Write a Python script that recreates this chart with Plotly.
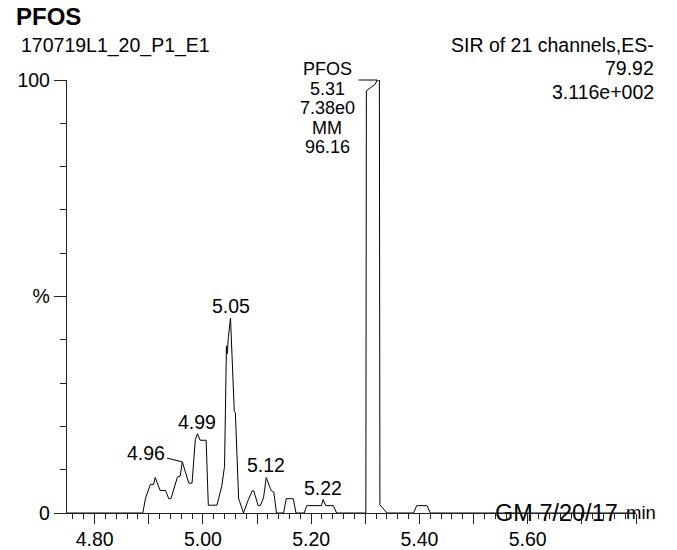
import plotly.graph_objects as go

# Selected ion recording trace (retention time in min, relative intensity in %)
rt = [4.749, 4.889, 4.894, 4.903, 4.909, 4.912, 4.921, 4.931, 4.937, 4.941,
      4.953, 4.958, 4.962, 4.974, 4.980, 4.986, 4.990, 4.995, 5.006, 5.010,
      5.026, 5.032, 5.035, 5.040, 5.0435, 5.045, 5.047, 5.051, 5.058, 5.060,
      5.066, 5.068, 5.075, 5.084, 5.091, 5.094, 5.102, 5.106, 5.112, 5.117,
      5.121, 5.126, 5.131, 5.136, 5.149, 5.154, 5.167, 5.172, 5.187, 5.192,
      5.219, 5.222, 5.227, 5.241, 5.247, 5.301, 5.302, 5.318, 5.322, 5.326,
      5.327, 5.340, 5.389, 5.395, 5.414, 5.420, 5.800]
pct = [0, 0, 3.4, 6.6, 6.6, 8.2, 5.2, 5.2, 3.3, 3.3,
       8.3, 8.5, 11.8, 6.9, 6.9, 16.9, 18.3, 16.8, 16.8, 1.8,
       1.8, 4.8, 6.3, 10.8, 38.6, 36.8, 40.5, 45.0, 23.4, 23.2,
       3.4, 2.6, 0, 3.1, 5.1, 5.1, 1.7, 1.7, 3.5, 8.2,
       6.9, 5.2, 4.8, 0, 0, 3.3, 3.3, 0, 0, 1.7,
       1.7, 3.1, 1.7, 1.7, 0, 0, 97.5, 99.0, 100, 100,
       1.9, 0, 0, 1.7, 1.7, 0, 0]

# Minor peaks picked by the integrator
minor_peak_rt = [4.96, 4.99, 5.05, 5.12, 5.22]

# Main integrated peak
main_name = "PFOS"
main_rt = 5.31
main_height = "7.38e0"
main_flag = "MM"
main_area = 96.16
main_apex_rt = 5.322

# Axis ticks
x_tickvals = [4.8, 4.9, 5.0, 5.1, 5.2, 5.3, 5.4, 5.5, 5.6, 5.7, 5.8]
x_ticktext = ["4.80", "", "5.00", "", "5.20", "", "5.40", "", "5.60", "", ""]
y_tickvals = [0, 50, 100]
y_ticktext = ["0", "%", "100"]

# Header text
title = "PFOS"
sample = "170719L1_20_P1_E1"
header_right = ["SIR of 21 channels,ES-", "79.92", "3.116e+002"]
signature = "GM 7/20/17"

W, H = 677, 550
L, R, T, B = 67, 41, 80, 37
PW, PH = W - L - R, H - T - B
FONT = "Liberation Sans, Arial, Helvetica, sans-serif"
FS = 19.5


def px(x):
    return (x - L) / PW


def py(y):
    return (H - B - y) / PH


def font(size):
    return dict(size=size, color="black", family=FONT)


fig = go.Figure()
fig.add_trace(go.Scatter(
    x=rt, y=pct, mode="lines",
    line=dict(color="black", width=1),
    cliponaxis=False, hoverinfo="skip", showlegend=False,
))

ann = []

# Labels over each minor peak apex
for lab in minor_peak_rt:
    cands = [i for i, t in enumerate(rt) if abs(t - lab) <= 0.006]
    i = max(cands, key=lambda k: pct[k])
    if lab == 4.96:
        ann.append(dict(x=rt[i], y=pct[i], text=f"{lab:.2f}", showarrow=True,
                        arrowhead=0, arrowwidth=1, arrowcolor="black",
                        ax=-36, ay=-9, standoff=0, font=font(FS)))
    else:
        ann.append(dict(x=rt[i], y=pct[i], text=f"{lab:.2f}", showarrow=False,
                        yanchor="middle", yshift=12, font=font(FS)))

# Main peak label block and its leader
main_lines = [main_name, f"{main_rt:.2f}", main_height, main_flag, f"{main_area:.2f}"]
for k, s in enumerate(main_lines):
    ann.append(dict(xref="paper", yref="paper", x=px(327), y=py(69.5 + 19.4 * k),
                    text=s, showarrow=False, xanchor="center", yanchor="middle",
                    font=font(18)))
ann.append(dict(x=main_apex_rt, y=100, text="", showarrow=True, arrowhead=0,
                arrowwidth=1, arrowcolor="black", ax=-20, ay=0, standoff=0))

# Header
ann.append(dict(xref="paper", yref="paper", x=px(14), y=py(17), text=f"<b>{title}</b>",
                showarrow=False, xanchor="left", yanchor="middle", font=font(24)))
ann.append(dict(xref="paper", yref="paper", x=px(19), y=py(45.5), text=sample,
                showarrow=False, xanchor="left", yanchor="middle", font=font(FS)))
for k, s in enumerate(header_right):
    ann.append(dict(xref="paper", yref="paper", x=px(656), y=py(45 + 23.3 * k), text=s,
                    showarrow=False, xanchor="right", yanchor="middle", font=font(FS)))

# Signature and axis unit along the time axis
ann.append(dict(xref="paper", yref="paper", x=px(493), y=py(512.5), text=signature,
                showarrow=False, xanchor="left", yanchor="middle", font=font(23.5)))
ann.append(dict(xref="paper", yref="paper", x=px(624), y=py(512), text="min",
                showarrow=False, xanchor="left", yanchor="middle", font=font(18.5)))

fig.update_layout(
    width=W, height=H,
    margin=dict(l=L, r=R, t=T, b=B, pad=0, autoexpand=False),
    paper_bgcolor="white", plot_bgcolor="white",
    font=font(FS),
    annotations=ann,
    xaxis=dict(
        range=[4.749, 5.80], showgrid=False, zeroline=False, automargin=False,
        showline=True, linecolor="#222", linewidth=1.3,
        ticks="outside", ticklen=10, tickwidth=1.2, tickcolor="#222",
        tickmode="array", tickvals=x_tickvals, ticktext=x_ticktext,
        tickfont=font(FS), ticklabelstandoff=-2,
        minor=dict(tickmode="linear", tick0=4.8, dtick=0.02, ticks="outside",
                   ticklen=5, tickwidth=1.2, tickcolor="#222"),
    ),
    yaxis=dict(
        range=[0, 100], showgrid=False, zeroline=False, automargin=False,
        showline=True, linecolor="#222", linewidth=1.3,
        ticks="outside", ticklen=12, tickwidth=1.2, tickcolor="#222",
        tickmode="array", tickvals=y_tickvals, ticktext=y_ticktext,
        tickfont=font(FS),
        minor=dict(tickmode="linear", tick0=0, dtick=10, ticks="outside",
                   ticklen=6, tickwidth=1.2, tickcolor="#222"),
    ),
)

fig.write_html("out.html")
